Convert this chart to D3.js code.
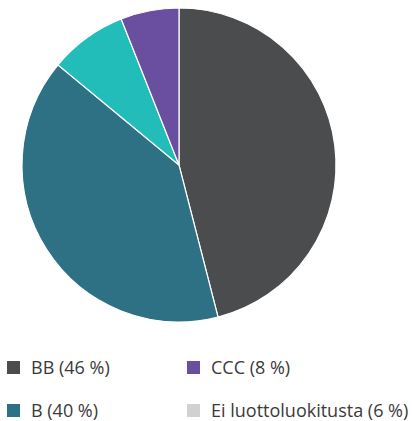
<!DOCTYPE html>
<html>
<head>
<meta charset="utf-8">
<script src="https://cdn.jsdelivr.net/npm/d3@7"></script>
<style>
  body { margin: 0; background: #fff; }
  text { font-family: "Open Sans", sans-serif; }
</style>
</head>
<body>
<div class="canvas"></div>
<script>
      const categories = ['BB', 'B', 'CCC', 'Ei luottoluokitusta'];
      const values = [46, 40, 8, 6];
      const sliceColors = ['#4b4c4e', '#2e7084', '#22bdb8', '#6a4fa0'];
      const legendColors = ['#4b4c4e', '#2e7084', '#6a4fa0', '#d0d1d3'];
      const legendOrder = [0, 2, 1, 3];

      const width = 412;
      const height = 421;
      const radius = 157;

      const svg = d3.select('.canvas')
        .append('svg')
        .attr('width', width)
        .attr('height', height);

      const graph = svg.append('g')
        .attr('transform', `translate(179, 165)`);

      // pie generator
      const pie = d3.pie().sort(null).value(d => d);
      const arc = d3.arc().innerRadius(0).outerRadius(radius);

      graph.selectAll('path')
        .data(pie(values))
        .enter()
        .append('path')
          .attr('d', arc)
          .attr('fill', (d, i) => sliceColors[i])
          .attr('stroke', '#fff')
          .attr('stroke-width', 1.2);

      // legend, two columns
      const legend = svg.append('g');

      const items = legend.selectAll('g')
        .data(legendOrder)
        .enter()
        .append('g')
          .attr('transform', (d, i) => `translate(${i % 2 ? 187 : 7}, ${i < 2 ? 361 : 404})`);

      items.append('rect')
        .attr('width', 13)
        .attr('height', 13)
        .attr('fill', d => legendColors[d]);

      items.append('text')
        .attr('x', 24)
        .attr('y', 12.5)
        .attr('fill', '#3a3a3a')
        .style('font-size', '18px')
        .text(d => `${categories[d]} (${values[d]} %)`);
</script>
</body>
</html>
